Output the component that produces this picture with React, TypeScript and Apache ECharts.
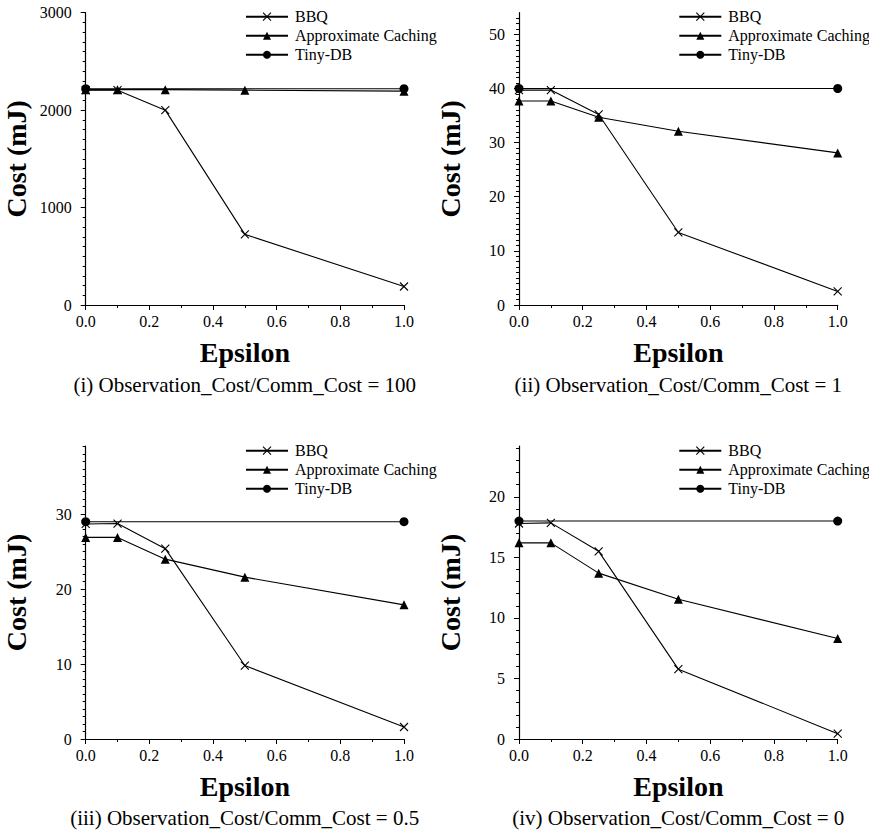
import React, { useEffect, useRef } from 'react';
import * as echarts from 'echarts';

// ---- data ----
const epsilon = [0, 0.1, 0.25, 0.5, 1.0];
const tinyEpsilon = [0, 1.0];
const seriesNames = ['BBQ', 'Approximate Caching', 'Tiny-DB'];

const bbq1 = [2205, 2205, 2000, 725, 190];
const approx1 = [2210, 2210, 2210, 2205, 2195];
const tiny1 = [2220, 2220];

const bbq2 = [39.7, 39.7, 35.2, 13.4, 2.5];
const approx2 = [37.7, 37.7, 34.7, 32.1, 28.1];
const tiny2 = [40, 40];

const bbq3 = [28.7, 28.75, 25.4, 9.8, 1.6];
const approx3 = [26.9, 26.9, 24.0, 21.6, 17.9];
const tiny3 = [29, 29];

const bbq4 = [17.8, 17.85, 15.5, 5.77, 0.44];
const approx4 = [16.2, 16.2, 13.7, 11.55, 8.3];
const tiny4 = [18, 18];

const yTicks1 = [0, 1000, 2000, 3000];
const yTicks2 = [0, 10, 20, 30, 40, 50];
const yTicks3 = [0, 10, 20, 30];
const yTicks4 = [0, 5, 10, 15, 20];
const xTicks = [0, 0.2, 0.4, 0.6, 0.8, 1.0];

const yMaxes = [3000, 54, 39.1, 24.2];
const yMinorSplits = [10, 10, 10, 5];

const captions = [
  '(i) Observation_Cost/Comm_Cost = 100',
  '(ii) Observation_Cost/Comm_Cost = 1',
  '(iii) Observation_Cost/Comm_Cost = 0.5',
  '(iv) Observation_Cost/Comm_Cost = 0',
];

const FONT = 'Liberation Serif';

// layout (pixels)
const grids = [
  { left: 85.7, top: 12.7, width: 318.3, height: 292.3 },
  { left: 519, top: 12.7, width: 318.7, height: 292.3 },
  { left: 85.7, top: 446, width: 318.3, height: 293 },
  { left: 519, top: 446, width: 318.7, height: 293 },
];
const legendPos = [
  { left: 245, top: 8.7 },
  { left: 678.3, top: 8.7 },
  { left: 245, top: 442.7 },
  { left: 678.3, top: 442.7 },
];
const captionPos = [
  { x: 244.7, y: 385 },
  { x: 678.3, y: 385 },
  { x: 244.7, y: 818 },
  { x: 678.3, y: 818 },
];

const CROSS = 'path://M0,0L10,10M10,0L0,10';

function pairs(xs: number[], ys: number[]) {
  return xs.map((x, i) => [x, ys[i]]);
}

export default function App() {
  const ref = useRef<HTMLDivElement>(null);

  useEffect(() => {
    if (!ref.current) return;
    const chart = echarts.init(ref.current, null, { renderer: 'svg' });

    const panelData = [
      [bbq1, approx1, tiny1],
      [bbq2, approx2, tiny2],
      [bbq3, approx3, tiny3],
      [bbq4, approx4, tiny4],
    ];
    const yTicks = [yTicks1, yTicks2, yTicks3, yTicks4];

    const axisColor = '#000';
    const labelText = { fontFamily: FONT, fontSize: 16, color: '#000', fontWeight: 'normal' };
    const nameText = { fontFamily: FONT, fontSize: 28, fontWeight: 'bold', color: '#000' };

    const xAxes = grids.map((_, i) => ({
      type: 'value',
      gridIndex: i,
      min: 0,
      max: 1,
      interval: 0.2,
      axisLine: { show: true, onZero: false, lineStyle: { color: axisColor, width: 1.2 } },
      axisTick: { show: true, length: 5, customValues: xTicks, lineStyle: { color: axisColor, width: 1 } },
      minorTick: { show: true, splitNumber: 2, length: 3, lineStyle: { color: axisColor, width: 1 } },
      splitLine: { show: false },
      minorSplitLine: { show: false },
      axisLabel: {
        customValues: xTicks,
        formatter: (v: number) => v.toFixed(1),
        margin: 8,
        ...labelText,
      },
      name: 'Epsilon',
      nameLocation: 'middle',
      nameGap: 33,
      nameTextStyle: nameText,
    }));

    const yAxes = grids.map((_, i) => ({
      type: 'value',
      gridIndex: i,
      min: 0,
      max: yMaxes[i],
      interval: yTicks[i][1] - yTicks[i][0],
      axisLine: { show: true, onZero: false, lineStyle: { color: axisColor, width: 1.2 } },
      axisTick: { show: true, length: 5, customValues: yTicks[i], lineStyle: { color: axisColor, width: 1 } },
      minorTick: { show: true, splitNumber: yMinorSplits[i], length: 3, lineStyle: { color: axisColor, width: 1 } },
      splitLine: { show: false },
      minorSplitLine: { show: false },
      axisLabel: {
        customValues: yTicks[i],
        formatter: (v: number) => String(v),
        margin: 14,
        ...labelText,
      },
      name: 'Cost (mJ)',
      nameLocation: 'middle',
      nameGap: 55,
      nameTextStyle: nameText,
    }));

    const series: any[] = [];
    panelData.forEach((pd, i) => {
      series.push({
        type: 'line',
        name: seriesNames[0],
        xAxisIndex: i,
        yAxisIndex: i,
        data: pairs(epsilon, pd[0]),
        symbol: CROSS,
        symbolSize: 8,
        lineStyle: { color: '#000', width: 1.1 },
        itemStyle: { color: '#000', borderColor: '#000', borderWidth: 1.1 },
        z: 3,
      });
      series.push({
        type: 'line',
        name: seriesNames[1],
        xAxisIndex: i,
        yAxisIndex: i,
        data: pairs(epsilon, pd[1]),
        symbol: 'triangle',
        symbolSize: 9,
        lineStyle: { color: '#000', width: 1.1 },
        itemStyle: { color: '#000', borderColor: '#000', borderWidth: 0 },
        z: 2,
      });
      series.push({
        type: 'line',
        name: seriesNames[2],
        xAxisIndex: i,
        yAxisIndex: i,
        data: pairs(tinyEpsilon, pd[2]),
        symbol: 'circle',
        symbolSize: 9,
        lineStyle: { color: '#000', width: 1.1 },
        itemStyle: { color: '#000', borderColor: '#000', borderWidth: 0 },
        z: 4,
      });
    });

    const legends = legendPos.map((p) => ({
      left: p.left,
      top: p.top,
      orient: 'vertical',
      padding: 0,
      itemWidth: 42,
      itemHeight: 10,
      itemGap: 3,
      selectedMode: false,
      textStyle: { ...labelText, padding: [0, 0, 0, 2] },
      data: [
        { name: seriesNames[0], itemStyle: { color: '#000', borderColor: '#000', borderWidth: 1.1 }, textStyle: labelText },
        { name: seriesNames[1], textStyle: labelText },
        { name: seriesNames[2], textStyle: labelText },
      ],
    }));

    const graphics = captionPos.map((p, i) => ({
      type: 'text',
      x: p.x,
      y: p.y,
      style: {
        text: captions[i],
        fontFamily: FONT,
        fontSize: 21,
        fill: '#000',
        align: 'center',
        verticalAlign: 'middle',
        textAlign: 'center',
        textVerticalAlign: 'middle',
      },
    }));

    chart.setOption({
      animation: false,
      backgroundColor: '#fff',
      textStyle: { fontFamily: FONT },
      grid: grids.map((g) => ({ ...g, containLabel: false })),
      xAxis: xAxes,
      yAxis: yAxes,
      legend: legends,
      series,
      graphic: graphics,
    });

    return () => chart.dispose();
  }, []);

  return (
    <div
      ref={ref}
      style={{ position: 'absolute', left: 0, top: 0, width: 869, height: 834, fontFamily: FONT }}
    />
  );
}
